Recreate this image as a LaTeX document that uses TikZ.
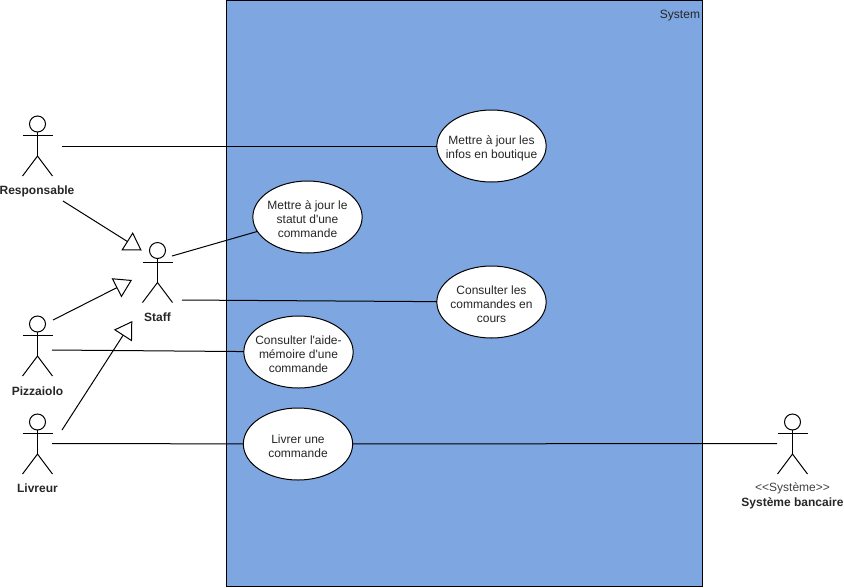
\documentclass[tikz,border=0pt]{standalone}
\usepackage{fontspec}
\setmainfont{Liberation Sans}
\usepackage{xcolor}
\usetikzlibrary{shapes,positioning,calc,arrows.meta}
\definecolor{sysblue}{HTML}{7EA6E0}
\newcommand{\ucup}{\rule{0pt}{10pt}}

\tikzset{
    usecase/.style={draw, fill=white, ellipse, minimum width=82pt, minimum height=54pt, inner sep=-12pt, outer sep=0pt, align=center, font=\fontsize{9}{10.5}\selectfont, text=black!85},
    actorname/.style={font=\fontsize{9}{10.5}\selectfont\bfseries, text=black!85, inner sep=0pt},
    stereotype/.style={font=\fontsize{9}{10.5}\selectfont, text=black!75, inner sep=0pt},
    inherits/.style={-{Triangle[open, length=13pt, width=16pt]}},
    pics/actor/.style={code={
        \draw (0,-22) circle (8);
        \draw (-15,-10.5) -- (15,-10.5);
        \draw (0,-14) -- (0,10);
        \draw (-15,30) -- (0,10) -- (15,30);
    }}
}

\begin{document}
\begin{tikzpicture}[x=0.75pt, y=-0.75pt, line width=0.75pt]
    \useasboundingbox (0,0) rectangle (844,587);

    % System boundary
    \node[draw, fill=sysblue, minimum width=357pt, minimum height=439.5pt, inner sep=0pt, outer sep=0pt, anchor=north west] (system) at (226.5,0.5) {};
    \node[anchor=north east, font=\fontsize{9}{10.5}\selectfont, text=black!85, inner sep=0pt] (systemname) at (700.5,10) {System};

    % Use cases
    \node[usecase] (infos) at (491.5,146) {\ucup Mettre à jour les\\infos en boutique};
    \node[usecase] (statut) at (307.5,217) {\ucup Mettre à jour le\\statut d\textquotesingle une\\commande};
    \node[usecase] (commandes) at (491.5,302) {\ucup Consulter les\\commandes en\\cours};
    \node[usecase] (aide) at (298.5,352) {\ucup Consulter l\textquotesingle aide-\\mémoire d\textquotesingle une\\commande};
    \node[usecase] (livrer) at (298,444) {\ucup Livrer une\\commande};

    % Actors
    \pic at (37.5,146) {actor};
    \node[actorname] (responsable) at (37,191.5) {Responsable};
    \pic at (157.5,272.5) {actor};
    \node[actorname] (staff) at (157.5,317) {Staff};
    \pic at (37.5,346) {actor};
    \node[actorname] (pizzaiolo) at (37.5,391) {Pizzaiolo};
    \pic at (37.5,444) {actor};
    \node[actorname] (livreur) at (37.5,488.5) {Livreur};
    \pic at (792.5,444) {actor};
    \node[stereotype] (systemetype) at (792.5,488) {<{}<Système>{}>};
    \node[actorname] (banque) at (792.5,503.5) {Système bancaire};

    % Free ends next to the actors
    \coordinate (respA) at (62,146);
    \coordinate (respB) at (63,201);
    \coordinate (staffA) at (172,256);
    \coordinate (staffB) at (182,300);
    \coordinate (pizzA) at (53,320);
    \coordinate (pizzB) at (52,350);
    \coordinate (livrA) at (62,430);
    \coordinate (livrB) at (52,443.5);
    \coordinate (banqueA) at (777,443.5);
    \coordinate (tipA) at (141.7,250.5);
    \coordinate (tipB) at (132,280);
    \coordinate (tipC) at (132.3,321);

    % Associations
    \draw (respA) -- (infos);
    \draw (staffA) -- (statut);
    \draw (staffB) -- (commandes);
    \draw (pizzB) -- (aide);
    \draw (livrB) -- (livrer);
    \draw (livrer) -- (banqueA);

    % Generalisations towards Staff
    \draw[inherits] (respB) -- (tipA);
    \draw[inherits] (pizzA) -- (tipB);
    \draw[inherits] (livrA) -- (tipC);
\end{tikzpicture}
\end{document}
